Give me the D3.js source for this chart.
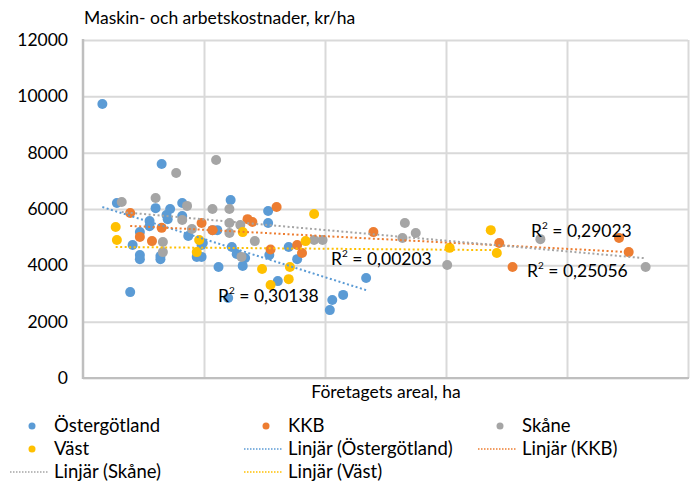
<!DOCTYPE html>
<html>
<head>
<meta charset="utf-8">
<script src="https://cdn.jsdelivr.net/npm/d3@7"></script>
<style>
    body { margin: 0; background: #fff; }
    svg { display: block; font-family: Lato, 'Open Sans', sans-serif; }
</style>
</head>
<body>
<div id="chart"></div>
<script>
// values: [areal ha, kr/ha]
const ostergotland = [
    [16, 9730], [28, 6210], [65, 7600], [39, 3050], [41, 4720], [47, 4370], [47, 4220],
    [55, 5570], [55, 5390], [47, 5180], [60, 6030], [72, 6000], [69, 5790], [70, 5640],
    [82, 6210], [82, 5750], [87, 5040], [64, 4330], [64, 4220], [99, 4790], [94, 4300],
    [98, 4300], [122, 6320], [107, 5250], [111, 5250], [98, 4720], [123, 4650], [127, 4400],
    [134, 4260], [112, 3940], [132, 3980], [120, 2840], [153, 5930], [153, 5500], [154, 4370],
    [170, 4650], [177, 4220], [161, 3440], [234, 3550], [215, 2950], [206, 2770], [204, 2410]
];
const kkb = [
    [39, 5860], [47, 5010], [65, 5330], [57, 4860], [98, 5500], [160, 6070], [136, 5640],
    [140, 5540], [107, 5250], [155, 4560], [177, 4720], [181, 4440], [240, 5180], [344, 4790],
    [355, 3940], [443, 4970], [451, 4470]
];
const skane = [
    [32, 6250], [60, 6390], [77, 7280], [86, 6110], [82, 5610], [90, 5290], [66, 4830],
    [66, 4470], [110, 7740], [107, 6000], [121, 6000], [121, 5500], [130, 5430], [121, 5150],
    [142, 4860], [131, 4300], [191, 4900], [198, 4900], [266, 5500], [275, 5150], [264, 4970],
    [301, 4010], [378, 4930], [465, 3940]
];
const vast = [
    [27, 5360], [28, 4900], [96, 4900], [94, 4470], [132, 5180], [191, 5820], [184, 4860],
    [148, 3870], [171, 3940], [170, 3510], [155, 3300], [303, 4620], [337, 5250], [342, 4440]
];

// linear trend lines, end points
const ostergotlandTrend = [[16, 6070], [234, 3120]];
const kkbTrend = [[39, 5400], [451, 4470]];
const skaneTrend = [[32, 5890], [465, 4250]];
const vastTrend = [[27, 4650], [342, 4540]];

const rSquared = ['0,30138', '0,00203', '0,29023', '0,25056'];

const yTicks = [0, 2000, 4000, 6000, 8000, 10000, 12000];
const xTicks = [0, 100, 200, 300, 400, 500];

const seriesNames = ['Östergötland', 'KKB', 'Skåne', 'Väst'];
const seriesColors = ['#5b9bd5', '#ed7d31', '#a5a5a5', '#ffc000'];

drawChart('chart');

function drawChart(divId) {
    const svgWidth = 694;
    const svgHeight = 484;
    const left = 83, right = 688, top = 40, bottom = 378;

    const svg = d3.select('#' + divId)
        .append('svg')
        .attr('width', svgWidth)
        .attr('height', svgHeight);

    const x = d3.scaleLinear().domain([0, 500]).range([left, right]);
    const y = d3.scaleLinear().domain([0, 12000]).range([bottom, top]);

    // grid
    svg.append('g')
        .attr('transform', `translate(0, ${bottom})`)
        .call(d3.axisBottom(x).tickValues(xTicks.slice(1)).tickSize(-(bottom - top)).tickFormat(''))
        .call(g => g.select('.domain').remove())
        .call(g => g.selectAll('line').attr('stroke', '#d9d9d9').attr('stroke-width', 2));

    svg.append('g')
        .attr('transform', `translate(${left}, 0)`)
        .call(d3.axisLeft(y).tickValues(yTicks).tickSize(-(right - left)).tickFormat(''))
        .call(g => g.select('.domain').remove())
        .call(g => g.selectAll('line').attr('stroke', '#d9d9d9').attr('stroke-width', 2));

    // axis lines
    svg.append('line')
        .attr('x1', left).attr('x2', left)
        .attr('y1', top - 1).attr('y2', bottom + 1)
        .attr('stroke', '#bfbfbf').attr('stroke-width', 2.5);
    svg.append('line')
        .attr('x1', left).attr('x2', right + 1)
        .attr('y1', bottom).attr('y2', bottom)
        .attr('stroke', '#bfbfbf').attr('stroke-width', 2);

    // y tick labels
    svg.append('g')
        .selectAll('text')
        .data(yTicks)
        .join('text')
        .attr('x', left - 15)
        .attr('y', d => y(d) + 6)
        .attr('text-anchor', 'end')
        .attr('font-size', 17.5)
        .attr('fill', '#000')
        .text(d => d);

    svg.append('text')
        .attr('x', left + 1)
        .attr('y', 24)
        .attr('font-size', 17.5)
        .text('Maskin- och arbetskostnader, kr/ha');

    svg.append('text')
        .attr('x', 386)
        .attr('y', 398)
        .attr('text-anchor', 'middle')
        .attr('font-size', 17.5)
        .text('Företagets areal, ha');

    // points
    const allSeries = [ostergotland, kkb, skane, vast];
    allSeries.forEach((points, i) => {
        svg.append('g')
            .selectAll('circle')
            .data(points)
            .join('circle')
            .attr('cx', d => x(d[0]))
            .attr('cy', d => y(d[1]))
            .attr('r', 5)
            .attr('fill', seriesColors[i]);
    });

    // trend lines
    const trends = [ostergotlandTrend, kkbTrend, skaneTrend, vastTrend];
    const line = d3.line().x(d => x(d[0])).y(d => y(d[1]));
    trends.forEach((trend, i) => {
        svg.append('path')
            .attr('d', line(trend))
            .attr('fill', 'none')
            .attr('stroke', seriesColors[i])
            .attr('stroke-width', 2)
            .attr('stroke-dasharray', '2,2.5');
    });

    // R² labels
    const labelPos = [[218, 302], [331, 265], [531, 237], [527, 277]];
    rSquared.forEach((value, i) => {
        const label = svg.append('text')
            .attr('x', labelPos[i][0])
            .attr('y', labelPos[i][1])
            .attr('font-size', 17.5);
        label.append('tspan').text('R');
        label.append('tspan').attr('font-size', 10).attr('dy', -8).text('2');
        label.append('tspan').attr('dy', 8).text(' = ' + value);
    });

    // legend
    const legendCols = [10, 244, 478];
    const legendRows = [426, 449, 472];
    const legendItems = [
        { name: seriesNames[0], color: seriesColors[0], type: 'dot' },
        { name: seriesNames[1], color: seriesColors[1], type: 'dot' },
        { name: seriesNames[2], color: seriesColors[2], type: 'dot' },
        { name: seriesNames[3], color: seriesColors[3], type: 'dot' },
        { name: 'Linjär (' + seriesNames[0] + ')', color: seriesColors[0], type: 'line' },
        { name: 'Linjär (' + seriesNames[1] + ')', color: seriesColors[1], type: 'line' },
        { name: 'Linjär (' + seriesNames[2] + ')', color: seriesColors[2], type: 'line' },
        { name: 'Linjär (' + seriesNames[3] + ')', color: seriesColors[3], type: 'line' }
    ];

    legendItems.forEach((item, i) => {
        const cx = legendCols[i % 3];
        const cy = legendRows[Math.floor(i / 3)];
        const g = svg.append('g').attr('transform', `translate(${cx}, ${cy})`);
        if (item.type === 'dot') {
            g.append('circle')
                .attr('cx', 22)
                .attr('r', 3.5)
                .attr('fill', item.color);
        } else {
            g.append('line')
                .attr('x1', 0).attr('x2', 39)
                .attr('stroke', item.color)
                .attr('stroke-width', 1.5)
                .attr('stroke-dasharray', '1.5,1.5');
        }
        g.append('text')
            .attr('x', 44)
            .attr('y', 6)
            .attr('font-size', 18.5)
            .text(item.name);
    });
}
</script>
</body>
</html>
